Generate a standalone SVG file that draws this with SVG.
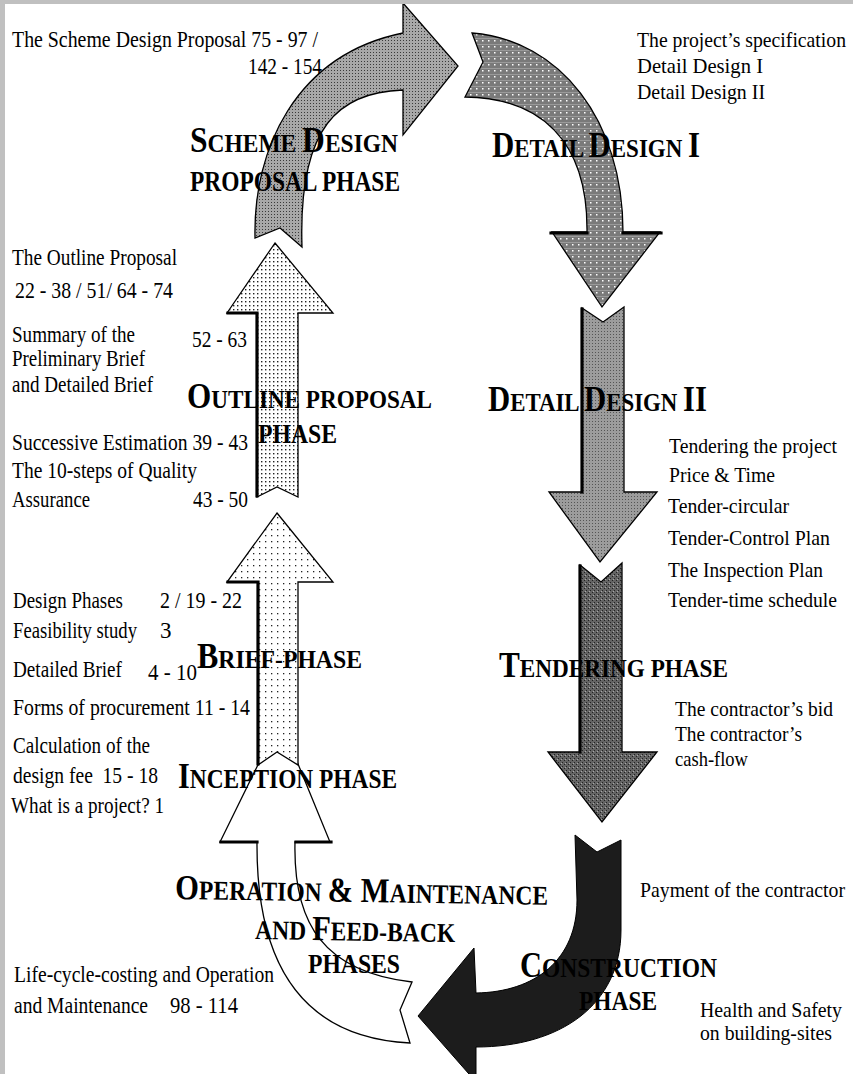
<svg xmlns="http://www.w3.org/2000/svg" width="853" height="1074" viewBox="0 0 853 1074">
  <defs>
    <style>
      .ol { stroke: #000; stroke-width: 1.3; stroke-linejoin: miter; }
      .edge { stroke: #000; stroke-width: 3.2; fill: none; stroke-linecap: square; }
      .h { font-family: "Liberation Serif", "Times New Roman", serif; font-weight: bold; font-size: 26px; fill: #000; }
      .h .b { font-size: 35px; }
      .t { font-family: "Liberation Serif", "Times New Roman", serif; font-size: 23px; fill: #000; }
      .r { font-family: "Liberation Serif", "Times New Roman", serif; font-size: 22px; fill: #000; }
    </style>
    <!-- screen tones for the phase arrows -->
    <pattern id="pScheme" width="3" height="3" patternUnits="userSpaceOnUse">
      <rect width="3" height="3" fill="#a8a8a8"/>
      <rect x="1" y="1" width="1" height="1" fill="#3a3a3a"/>
    </pattern>
    <pattern id="pOutline" width="4" height="4" patternUnits="userSpaceOnUse">
      <rect width="4" height="4" fill="#fff"/>
      <rect x="1" y="1" width="1.4" height="1.4" fill="#222"/>
    </pattern>
    <pattern id="pBrief" width="6" height="6" patternUnits="userSpaceOnUse">
      <rect width="6" height="6" fill="#fff"/>
      <rect x="1" y="1" width="1.3" height="1.3" fill="#222"/>
    </pattern>
    <pattern id="pDetail1" width="6" height="6" patternUnits="userSpaceOnUse">
      <rect width="6" height="6" fill="#7a7a7a"/>
      <rect x="0" y="2" width="6" height="1" fill="#9a9a9a"/>
      <rect x="2" y="4" width="1.5" height="1.5" fill="#fff"/>
    </pattern>
    <pattern id="pDetail2" width="3" height="3" patternUnits="userSpaceOnUse">
      <rect width="3" height="3" fill="#9c9c9c"/>
      <rect x="1" y="1" width="1" height="1" fill="#555"/>
    </pattern>
    <pattern id="pTender" width="4" height="4" patternUnits="userSpaceOnUse">
      <rect width="4" height="4" fill="#646464"/>
      <rect x="0" y="0" width="1" height="1" fill="#222"/>
      <rect x="2" y="2" width="1" height="1" fill="#222"/>
      <rect x="1" y="3" width="1" height="1" fill="#a8a8a8"/>
    </pattern>
  </defs>

  <rect width="853" height="1074" fill="#fff"/>

  <!-- the cycle of phase arrows -->
  <g id="connectors">
    <!-- operation & maintenance: white curved arrow back up to inception -->
    <g id="arrow-operation">
      <path class="ol" fill="#fff" d="M410,1043 C310,1038 256,975 257,842 L220,842 L280,720 L330,842 L295,842 C293,925 325,972 412,982 L400,1010 Z"/>
      <path class="edge" d="M221,842 H257 M296,842 H331"/>
    </g>
    <!-- scheme design proposal: curved arrow over the top -->
    <g id="arrow-scheme">
      <path class="ol" fill="url(#pScheme)" d="M255,238 C253,150 295,55 403,33 L403,3 L458,66 L403,135 L403,90 C340,92 298,125 302,247 L280,228 Z"/>
    </g>
    <!-- outline proposal -->
    <g id="arrow-outline">
      <path class="ol" fill="url(#pOutline)" d="M275,243 L333,313 L298,313 L298,497 L277,487 L257,497 L257,313 L227,313 Z"/>
      <path class="edge" d="M228,313 H257 V496"/>
    </g>
    <!-- brief phase -->
    <g id="arrow-brief">
      <path class="ol" fill="url(#pBrief)" d="M277,513 L333,582 L298,582 L298,765 L277,752 L258,765 L258,582 L227,582 Z"/>
      <path class="edge" d="M228,582 H258 V764"/>
    </g>
    <!-- detail design I: curved arrow turning down -->
    <g id="arrow-detail1">
      <path class="ol" fill="url(#pDetail1)" d="M472,33 C560,40 623,120 623,232 L660,232 L602,307 L552,232 L587,232 C588,140 540,98 465,97 L483,62 Z"/>
      <path class="edge" d="M551,233 H587 M623,233 H661"/>
    </g>
    <!-- detail design II -->
    <g id="arrow-detail2">
      <path class="ol" fill="url(#pDetail2)" d="M582,308 L603,322 L624,307 L624,492 L657,492 L600,562 L549,492 L582,492 Z"/>
      <path class="edge" d="M582,309 V492"/>
    </g>
    <!-- tendering phase -->
    <g id="arrow-tender">
      <path class="ol" fill="url(#pTender)" d="M580,565 L601,582 L622,563 L622,752 L657,752 L602,822 L548,752 L580,752 Z"/>
      <path class="edge" d="M580,566 V752"/>
    </g>
    <!-- construction: dark curved arrow turning left -->
    <g id="arrow-construction">
      <path fill="#1c1c1c" stroke="#000" stroke-width="1" d="M575,835 L597,852 L621,840 L621,930 C621,1005 560,1047 476,1047 L476,1082 L418,1016 L474,948 L476,993 C535,992 577,960 577,900 Z"/>
    </g>
  </g>

  <!-- phase headings -->
  <g id="phase-scheme">
    <text class="h" x="190" y="152" textLength="208" lengthAdjust="spacingAndGlyphs"><tspan class="b">S</tspan>CHEME <tspan class="b">D</tspan>ESIGN</text>
    <text class="h" x="190" y="191" textLength="210" lengthAdjust="spacingAndGlyphs" style="font-size:30px">PROPOSAL PHASE</text>
  </g>
  <g id="phase-detail1">
    <text class="h" x="492" y="157" textLength="208" lengthAdjust="spacingAndGlyphs"><tspan class="b">D</tspan>ETAIL <tspan class="b">D</tspan>ESIGN <tspan class="b">I</tspan></text>
  </g>
  <g id="phase-outline">
    <text class="h" x="187" y="408" textLength="245" lengthAdjust="spacingAndGlyphs"><tspan class="b">O</tspan>UTLINE PROPOSAL</text>
    <text class="h" x="258" y="443" textLength="79" lengthAdjust="spacingAndGlyphs" style="font-size:28px">PHASE</text>
  </g>
  <g id="phase-detail2">
    <text class="h" x="488" y="411" textLength="219" lengthAdjust="spacingAndGlyphs"><tspan class="b">D</tspan>ETAIL <tspan class="b">D</tspan>ESIGN <tspan class="b">II</tspan></text>
  </g>
  <g id="phase-brief">
    <text class="h" x="197" y="668" textLength="165" lengthAdjust="spacingAndGlyphs"><tspan class="b">B</tspan>RIEF-PHASE</text>
  </g>
  <g id="phase-tender">
    <text class="h" x="499" y="677" textLength="229" lengthAdjust="spacingAndGlyphs"><tspan class="b">T</tspan>ENDERING PHASE</text>
  </g>
  <g id="phase-inception">
    <text class="h" x="178" y="788" textLength="219" lengthAdjust="spacingAndGlyphs" style="font-size:27px"><tspan class="b">I</tspan>NCEPTION PHASE</text>
  </g>
  <g id="phase-operation">
    <text class="h" x="175" y="899" textLength="373" lengthAdjust="spacingAndGlyphs" transform="rotate(0.9 175 899)" style="font-size:27px"><tspan class="b">O</tspan>PERATION <tspan class="b">&amp; M</tspan>AINTENANCE</text>
    <text class="h" x="255" y="939" textLength="200" lengthAdjust="spacingAndGlyphs" transform="rotate(0.9 255 939)" style="font-size:27px">AND <tspan class="b">F</tspan>EED-BACK</text>
    <text class="h" x="308" y="973" textLength="92" lengthAdjust="spacingAndGlyphs" style="font-size:27px">PHASES</text>
  </g>
  <g id="phase-construction">
    <text class="h" x="520" y="977" textLength="197" lengthAdjust="spacingAndGlyphs" style="font-size:27px"><tspan class="b">C</tspan>ONSTRUCTION</text>
    <text class="h" x="579" y="1010" textLength="78" lengthAdjust="spacingAndGlyphs" style="font-size:27px">PHASE</text>
  </g>

  <!-- references to handbook sections -->
  <g id="notes-left">
    <text class="t" x="12" y="47" textLength="306" lengthAdjust="spacingAndGlyphs">The Scheme Design Proposal 75 - 97 /</text>
    <text class="t" x="248" y="74" textLength="74" lengthAdjust="spacingAndGlyphs">142 - 154</text>
    <text class="t" x="12" y="265" textLength="165" lengthAdjust="spacingAndGlyphs">The Outline Proposal</text>
    <text class="t" x="15" y="298" textLength="158" lengthAdjust="spacingAndGlyphs">22 - 38 / 51/ 64 - 74</text>
    <text class="t" x="12" y="342" textLength="123" lengthAdjust="spacingAndGlyphs">Summary of the</text>
    <text class="t" x="192" y="347" textLength="55" lengthAdjust="spacingAndGlyphs">52 - 63</text>
    <text class="t" x="12" y="366" textLength="133" lengthAdjust="spacingAndGlyphs">Preliminary Brief</text>
    <text class="t" x="12" y="392" textLength="141" lengthAdjust="spacingAndGlyphs">and Detailed Brief</text>
    <text class="t" x="12" y="450" textLength="236" lengthAdjust="spacingAndGlyphs">Successive Estimation 39 - 43</text>
    <text class="t" x="12" y="478" textLength="185" lengthAdjust="spacingAndGlyphs">The 10-steps of Quality</text>
    <text class="t" x="12" y="507" textLength="78" lengthAdjust="spacingAndGlyphs">Assurance</text>
    <text class="t" x="193" y="507" textLength="55" lengthAdjust="spacingAndGlyphs">43 - 50</text>
    <text class="t" x="13" y="608" textLength="110" lengthAdjust="spacingAndGlyphs">Design Phases</text>
    <text class="t" x="160" y="608" textLength="82" lengthAdjust="spacingAndGlyphs">2 / 19 - 22</text>
    <text class="t" x="13" y="638" textLength="124" lengthAdjust="spacingAndGlyphs">Feasibility study</text>
    <text class="t" x="160" y="638">3</text>
    <text class="t" x="13" y="677" textLength="109" lengthAdjust="spacingAndGlyphs">Detailed Brief</text>
    <text class="t" x="148" y="680" textLength="49" lengthAdjust="spacingAndGlyphs">4 - 10</text>
    <text class="t" x="13" y="715" textLength="237" lengthAdjust="spacingAndGlyphs">Forms of procurement 11 - 14</text>
    <text class="t" x="13" y="753" textLength="137" lengthAdjust="spacingAndGlyphs">Calculation of the</text>
    <text class="t" x="13" y="783" textLength="145" lengthAdjust="spacingAndGlyphs" xml:space="preserve">design fee  15 - 18</text>
    <text class="t" x="11" y="813" textLength="153" lengthAdjust="spacingAndGlyphs">What is a project? 1</text>
    <text class="t" x="14" y="982" textLength="260" lengthAdjust="spacingAndGlyphs">Life-cycle-costing and Operation</text>
    <text class="t" x="14" y="1013" textLength="134" lengthAdjust="spacingAndGlyphs">and Maintenance</text>
    <text class="t" x="170" y="1013" textLength="68" lengthAdjust="spacingAndGlyphs">98 - 114</text>
  </g>
  <g id="notes-right">
    <text class="r" x="637" y="47" textLength="209" lengthAdjust="spacingAndGlyphs">The project’s specification</text>
    <text class="r" x="637" y="73" textLength="126" lengthAdjust="spacingAndGlyphs">Detail Design I</text>
    <text class="r" x="637" y="99" textLength="128" lengthAdjust="spacingAndGlyphs">Detail Design II</text>
    <text class="r" x="669" y="453" textLength="168" lengthAdjust="spacingAndGlyphs">Tendering the project</text>
    <text class="r" x="669" y="482" textLength="106" lengthAdjust="spacingAndGlyphs">Price &amp; Time</text>
    <text class="r" x="668" y="513" textLength="121" lengthAdjust="spacingAndGlyphs">Tender-circular</text>
    <text class="r" x="668" y="545" textLength="162" lengthAdjust="spacingAndGlyphs">Tender-Control Plan</text>
    <text class="r" x="668" y="577" textLength="155" lengthAdjust="spacingAndGlyphs">The Inspection Plan</text>
    <text class="r" x="668" y="607" textLength="169" lengthAdjust="spacingAndGlyphs">Tender-time schedule</text>
    <text class="r" x="675" y="716" textLength="158" lengthAdjust="spacingAndGlyphs">The contractor’s bid</text>
    <text class="r" x="675" y="741" textLength="127" lengthAdjust="spacingAndGlyphs">The contractor’s</text>
    <text class="r" x="675" y="766" textLength="73" lengthAdjust="spacingAndGlyphs">cash-flow</text>
    <text class="r" x="640" y="897" textLength="205" lengthAdjust="spacingAndGlyphs">Payment of the contractor</text>
    <text class="r" x="700" y="1017" textLength="142" lengthAdjust="spacingAndGlyphs">Health and Safety</text>
    <text class="r" x="700" y="1040" textLength="132" lengthAdjust="spacingAndGlyphs">on building-sites</text>
  </g>

  <!-- scanner frame -->
  <rect x="0" y="0" width="853" height="4" fill="#c0c0c0"/>
  <rect x="0" y="0" width="5" height="1074" fill="#c0c0c0"/>
</svg>
